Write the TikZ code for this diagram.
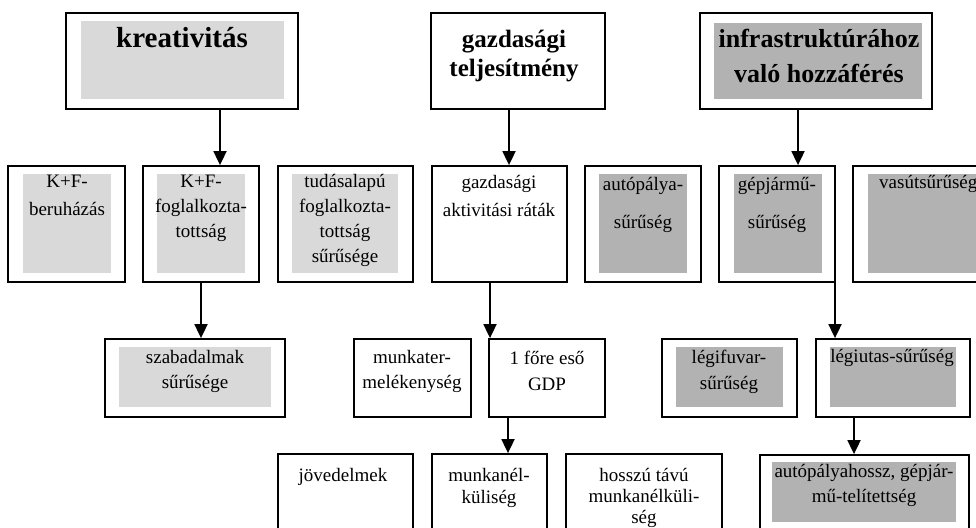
\documentclass[tikz,border=0pt]{standalone}
\usepackage{fontspec}
\setmainfont{Liberation Serif}
\usetikzlibrary{arrows.meta}

\definecolor{lite}{RGB}{217,217,217}
\definecolor{dark}{RGB}{178,178,178}

\begin{document}
\begin{tikzpicture}[x=1pt, y=-1pt, line join=miter,
  box/.style={draw, line width=1.8pt, inner sep=0pt},
  headbox/.style={box, line width=2.3pt},
  txt/.style={font=\fontsize{19}{25}\selectfont, align=center, anchor=base, inner sep=0pt},
  head/.style={font=\bfseries\fontsize{26}{35}\selectfont, align=center, anchor=base, inner sep=0pt},
  arr/.style={line width=1.8pt, -{Triangle[width=13pt,length=14pt]}}]

% Page frame (the right and bottom boxes run off the page)
\useasboundingbox (0,0) rectangle (976,527);
\clip (0,0) rectangle (976,527);

% Where the arrows run down
\coordinate (a1) at (220,0);
\coordinate (a2) at (201,0);
\coordinate (a3) at (509,0);
\coordinate (a4) at (490,0);
\coordinate (a5) at (508,0);
\coordinate (a6) at (798,0);
\coordinate (a7) at (835,0);
\coordinate (a8) at (854,0);

% Top row: the three main factors
% (text nodes sit on the baseline of their last line)
\node[headbox, minimum width=232pt, minimum height=96pt] (kreativ) at (182,61) {};
\fill[lite] (81,21) rectangle (284,99);
\node[head, font=\bfseries\fontsize{29}{34}\selectfont] (kreativt) at (182,48) {kreativitás};

\node[headbox, minimum width=174pt, minimum height=96pt] (gazd) at (518,61) {};
\node[head, font=\bfseries\fontsize{25}{29}\selectfont] (gazdt) at (514,77) {gazdasági\\teljesítmény};

\node[headbox, minimum width=232pt, minimum height=96pt] (infra) at (816,61) {};
\fill[dark] (714,23) rectangle (922,99);
\node[head] (infrat) at (819,82) {infrastruktúrához\\való hozzáférés};

% Second row
\node[box, minimum width=117pt, minimum height=116pt] (kfberuh) at (66.5,224) {};
\fill[lite] (23,174) rectangle (111,273);
\node[txt, font=\fontsize{19}{28}\selectfont] (kfberuht) at (67,215) {K+F-\\beruházás};

\node[box, minimum width=116pt, minimum height=116pt] (kffogl) at (201,224) {};
\fill[lite] (157,174) rectangle (245,273);
\node[txt] (kffoglt) at (201,237) {K+F-\\foglalkozta-\\tottság};

\node[box, minimum width=135pt, minimum height=116pt] (tudas) at (345.5,224) {};
\fill[lite] (292,174) rectangle (398,273);
\node[txt] (tudast) at (345,262) {tudásalapú\\foglalkozta-\\tottság\\sűrűsége};

\node[box, minimum width=135pt, minimum height=116pt] (aktiv) at (499.5,224) {};
\node[txt, font=\fontsize{19}{28}\selectfont] (aktivt) at (499,216) {gazdasági\\aktivitási ráták};

\node[box, minimum width=116pt, minimum height=116pt] (autop) at (643,224) {};
\fill[dark] (599,174) rectangle (687,273);
\node[txt, font=\fontsize{19}{38}\selectfont] (autopt) at (643,228) {autópálya-\\sűrűség};

\node[box, minimum width=116pt, minimum height=116pt] (gepj) at (777,224) {};
\fill[dark] (734,174) rectangle (822,273);
\node[txt, font=\fontsize{19}{38}\selectfont] (gepjt) at (777,228) {gépjármű-\\sűrűség};

\node[box, minimum width=137pt, minimum height=116pt] (vasut) at (921.5,224) {};
\fill[dark] (868,174) rectangle (980,273);
\node[txt, anchor=base west] (vasutt) at (879,188) {vasútsűrűség};

% Third row
\node[box, minimum width=180pt, minimum height=78pt] (szabad) at (195,378) {};
\fill[lite] (119,347) rectangle (271,407);
\node[txt] (szabadt) at (195,388) {szabadalmak\\sűrűsége};

\node[box, minimum width=117pt, minimum height=78pt] (munkater) at (412.5,378) {};
\node[txt] (munkatert) at (412,388) {munkater-\\melékenység};

\node[box, minimum width=116pt, minimum height=78pt] (gdp) at (547,378) {};
\node[txt, font=\fontsize{19}{26}\selectfont] (gdpt) at (547,390) {1 főre eső\\GDP};

\node[box, minimum width=135pt, minimum height=78pt] (legifuv) at (729.5,378) {};
\fill[dark] (676,347) rectangle (783,407);
\node[txt, font=\fontsize{19}{26}\selectfont] (legifuvt) at (729,389) {légifuvar-\\sűrűség};

\node[box, minimum width=154pt, minimum height=78pt] (legiut) at (893,378) {};
\fill[dark] (830,347) rectangle (956,407);
\node[txt] (legiutt) at (892,362) {légiutas-sűrűség};

% Bottom row
\node[box, minimum width=135pt, minimum height=110pt] (jovedelem) at (345.5,509) {};
\node[txt] (jovedelemt) at (343,481) {jövedelmek};

\node[box, minimum width=115pt, minimum height=110pt] (munkanel) at (489.5,509) {};
\node[txt, font=\fontsize{19}{22}\selectfont] (munkanelt) at (489,503) {munkanél-\\küliség};

\node[box, minimum width=156pt, minimum height=110pt] (hosszu) at (644,509) {};
\node[txt, font=\fontsize{19}{21}\selectfont] (hosszut) at (644,523) {hosszú távú\\munkanélküli-\\ség};

\node[box, minimum width=209pt, minimum height=110pt] (autohossz) at (864.5,510) {};
\fill[dark] (772,462) rectangle (956,522);
\node[txt] (autohosszt) at (864,502) {autópályahossz, gépjár-\\mű-telítettség};

% Arrows between the boxes
\draw[arr] (kreativ.south -| a1) -- (kffogl.north -| a1);
\draw[arr] (kffogl.south -| a2) -- (szabad.north -| a2);
\draw[arr] (gazd.south -| a3) -- (aktiv.north -| a3);
\draw[arr] (aktiv.south -| a4) -- (gdp.north -| a4);
\draw[arr] (gdp.south -| a5) -- (munkanel.north -| a5);
\draw[arr] (infra.south -| a6) -- (gepj.north -| a6);
\draw[arr] (gepj.south -| a7) -- (legiut.north -| a7);
\draw[arr] (legiut.south -| a8) -- (autohossz.north -| a8);

\end{tikzpicture}
\end{document}
